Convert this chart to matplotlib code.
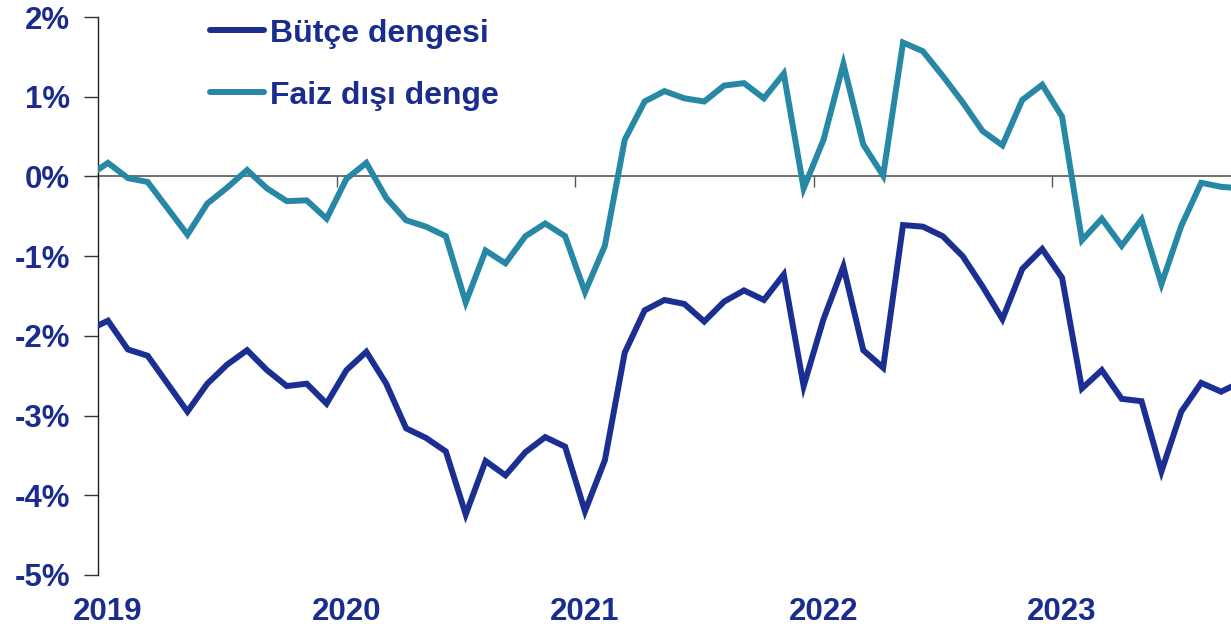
import matplotlib
matplotlib.use("Agg")
import matplotlib.pyplot as plt
import matplotlib.transforms as mtransforms
import numpy as np

plt.rcParams['font.family'] = ['Liberation Sans', 'DejaVu Sans']

# Monthly data, Dec 2018 .. Oct 2023 (percent of GDP)
start_year, start_month = 2018, 12
faiz_disi_denge = [
    0.00,
    0.17, -0.02, -0.07, -0.40, -0.73, -0.34, -0.14, 0.08, -0.15, -0.31, -0.30, -0.53,
    -0.03, 0.17, -0.27, -0.55, -0.63, -0.75, -1.58, -0.93, -1.09, -0.75, -0.59, -0.75,
    -1.45, -0.87, 0.46, 0.94, 1.07, 0.98, 0.94, 1.14, 1.17, 0.98, 1.29, -0.15,
    0.46, 1.41, 0.40, 0.01, 1.68, 1.57, 1.26, 0.93, 0.57, 0.39, 0.96, 1.15,
    0.75, -0.80, -0.53, -0.87, -0.54, -1.35, -0.62, -0.08, -0.13, -0.15,
]
butce_dengesi = [
    -1.93,
    -1.81, -2.17, -2.25, -2.60, -2.95, -2.60, -2.36, -2.18, -2.43, -2.63, -2.60, -2.85,
    -2.43, -2.20, -2.60, -3.16, -3.28, -3.45, -4.24, -3.57, -3.75, -3.46, -3.27, -3.39,
    -4.20, -3.56, -2.21, -1.68, -1.55, -1.60, -1.82, -1.57, -1.43, -1.55, -1.23, -2.63,
    -1.79, -1.13, -2.18, -2.40, -0.61, -0.63, -0.75, -1.00, -1.38, -1.79, -1.16, -0.91,
    -1.27, -2.66, -2.43, -2.79, -2.82, -3.70, -2.95, -2.59, -2.70, -2.58,
]
years = [2019, 2020, 2021, 2022, 2023]
year_labels = ["2019", "2020", "2021", "2022", "2023"]
y_ticks = [-5, -4, -3, -2, -1, 0, 1, 2]
y_labels = ["-5%", "-4%", "-3%", "-2%", "-1%", "0%", "1%", "2%"]
series_names = ["Bütçe dengesi", "Faiz dışı denge"]

n = len(butce_dengesi)
x = np.array([start_year + (start_month - 1 + i + 0.5) / 12.0 for i in range(n)])

TEXT = "#1a2d8f"
BLUE = "#1b2e92"
TEAL = "#2788a6"

fig = plt.figure(figsize=(12.31, 6.29), dpi=100)
ax = fig.add_axes([98 / 1231, 54 / 629, 1 - 98 / 1231, (575 - 17) / 629])

l1, = ax.plot(x, butce_dengesi, color=BLUE, lw=4.3, solid_joinstyle='miter',
              solid_capstyle='butt', label=series_names[0], zorder=3)
l2, = ax.plot(x, faiz_disi_denge, color=TEAL, lw=4.3, solid_joinstyle='miter',
              solid_capstyle='butt', label=series_names[1], zorder=3)

ax.set_xlim(2019, 2023.75)
ax.set_ylim(-5, 2)

for s in ['top', 'right']:
    ax.spines[s].set_visible(False)
ax.spines['left'].set_color('#222222')
ax.spines['left'].set_linewidth(1.0)
ax.spines['bottom'].set_position(('data', 0))
ax.spines['bottom'].set_color('#555555')
ax.spines['bottom'].set_linewidth(1.2)
ax.spines['bottom'].set_zorder(2)

ax.set_yticks(y_ticks)
ax.set_yticklabels(y_labels)
ax.tick_params(axis='y', direction='out', length=10, width=1, color='#333333',
               pad=10, labelsize=22.5, labelcolor=TEXT)
for t in ax.get_yticklabels():
    t.set_fontweight('bold')

ax.set_xticks(years)
ax.set_xticklabels([])
ax.tick_params(axis='x', direction='out', length=8, width=1, color='#555555')

trans = mtransforms.blended_transform_factory(ax.transData, fig.transFigure)
for yr, lab in zip(years, year_labels):
    ax.text(yr + 0.5 / 12, 1 - 612 / 629, lab, transform=trans, ha='center', va='center',
            fontsize=22.5, fontweight='bold', color=TEXT, clip_on=False)

leg = ax.legend(handles=[l1, l2], loc='upper left', bbox_to_anchor=(99 / 1133, 1.02),
                frameon=False, fontsize=23, handlelength=1.7, handletextpad=0.2,
                labelspacing=1.0, borderaxespad=0)
for t in leg.get_texts():
    t.set_color(TEXT)
    t.set_fontweight('bold')
for h in leg.legend_handles:
    h.set_solid_capstyle('round')

fig.savefig("out.png", dpi=100)
